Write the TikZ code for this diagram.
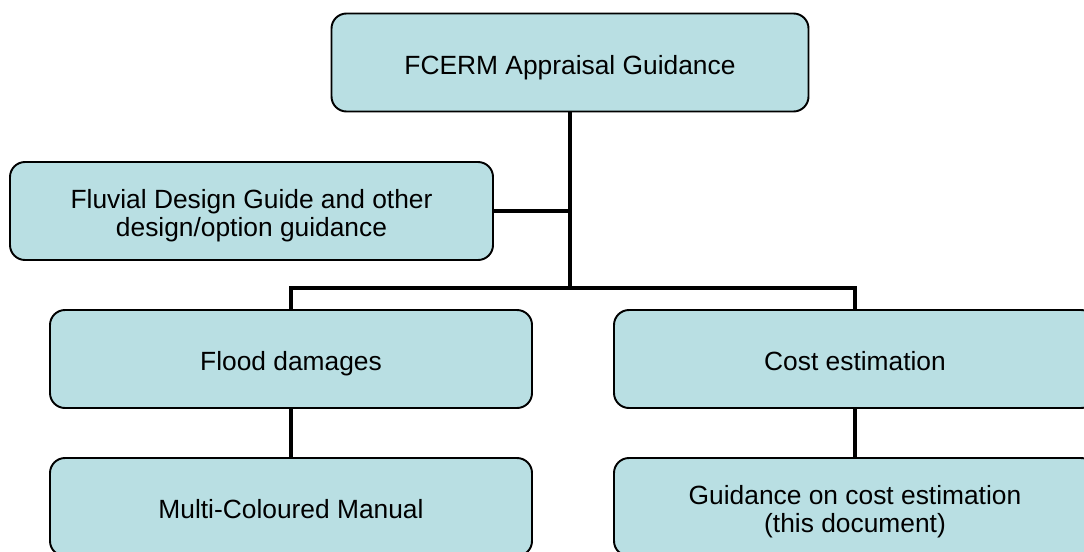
\documentclass[tikz,border=0pt]{standalone}
\usepackage{fontspec}
\setmainfont{Liberation Sans}
\usepackage{xcolor}
\usetikzlibrary{calc}
\definecolor{boxfill}{RGB}{185,223,227}
\colorlet{boxline}{black}
\tikzstyle{link}=[black,line width=2.8pt]

\begin{document}
\begin{tikzpicture}[
    x=0.02cm,y=-0.02cm,
    guidebox/.style={draw=boxline,fill=boxfill,line width=1.1pt,rounded corners=0.3cm,
                     minimum width=\W*0.02cm,minimum height=\Hb*0.02cm,inner sep=0pt,
                     align=center,font=\fontsize{15}{16}\selectfont,
                     text height=13.5pt,text depth=0pt},
    twoline/.style={text height=29.5pt,text depth=0pt},
  ]
  
  \def\W{482}    % box width (px)
  \def\Hb{98}    % box height (px)
  \def\xL{291}   % left column
  \def\xR{855}   % right column
  \def\xM{570}   % trunk
  \def\yB{288}   % bus level
  
  \useasboundingbox (0,0) rectangle (1084,551);
  
  % BOXES
  \node[guidebox,minimum width=477*0.02cm] (top) at (\xM,62.5) {FCERM Appraisal Guidance};
  \node[guidebox,twoline,minimum width=483*0.02cm] (fluvial) at (251.5,211) {Fluvial Design Guide and other\\design/option guidance};
  \node[guidebox] (flood) at (\xL,359) {Flood damages};
  \node[guidebox] (cost) at (\xR,359) {Cost estimation};
  \node[guidebox] (mcm) at (\xL,507) {Multi-Coloured Manual};
  \node[guidebox,twoline] (guide) at (\xR,507) {Guidance on cost estimation\\(this document)};
  
  % LINKS
  \coordinate (bus) at (\xM,\yB);
  \draw[link] (top.south) -- (bus);
  \draw[link] (fluvial.east) -- (fluvial.east -| bus);
  \draw[link] (flood.north) |- (bus) -| (cost.north);
  \draw[link] (flood) -- (mcm);
  \draw[link] (cost) -- (guide);
  
\end{tikzpicture}
\end{document}
